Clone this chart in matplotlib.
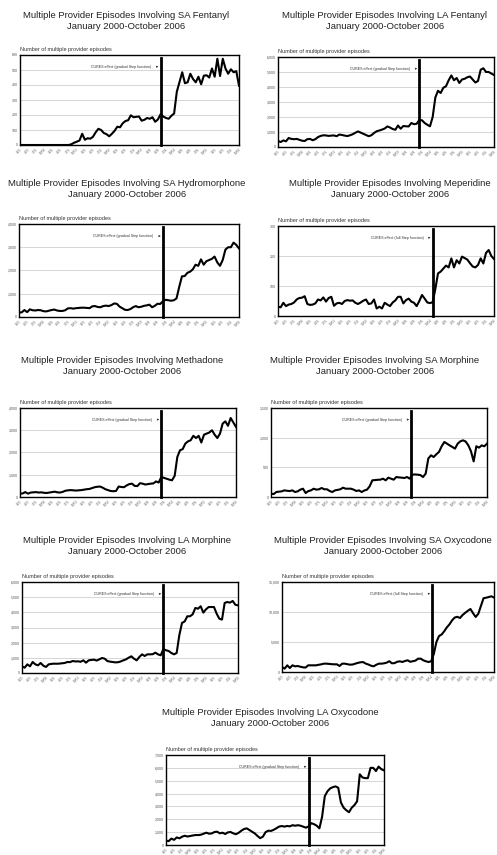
import matplotlib
matplotlib.use("Agg")
import matplotlib.pyplot as plt
import numpy as np

plt.rcParams['font.family'] = ['Liberation Sans', 'DejaVu Sans']

# monthly counts, January 2000 - October 2006 (82 months)
sa_fentanyl = [0] * 19 + [
    5, 15, 22, 30, 75, 35, 45, 42, 55, 85, 108, 100,
    80, 72, 58, 75, 95, 122, 118, 145, 160, 165, 198, 185,
    188, 190, 162, 168, 180, 175, 185, 155, 170, 205, 190, 180,
    175, 195, 210, 355, 420, 485, 412, 418, 475, 440, 418, 455,
    405, 462, 465, 450, 510, 455, 575, 460, 575, 510, 475, 505,
    485, 492, 395]

la_fentanyl = [
    400, 330, 440, 380, 600, 540, 520, 540, 480, 420, 400, 520,
    540, 450, 520, 660, 740, 780, 770, 740, 760, 770, 720, 830,
    800, 760, 730, 780, 850, 950, 1040, 960, 880, 800, 720, 780,
    930, 1050, 1100, 1160, 1230, 1370, 1300, 1200, 1150, 1430, 1220, 1400,
    1380, 1370, 1600, 1520, 1550, 1800, 1780, 1600, 1480, 1380, 2000, 3300,
    3750, 3600, 3950, 4050, 4450, 4770, 4450, 4600, 4270, 4500, 4550, 4650,
    4700, 4500, 4300, 4400, 5150, 5250, 5000, 5000, 4900, 4800]

sa_hydromorphone = [
    190, 200, 300, 210, 330, 290, 280, 300, 290, 250, 240, 270,
    300, 320, 280, 260, 260, 290, 370, 380, 360, 380, 390, 400,
    400, 390, 380, 460, 470, 430, 420, 470, 490, 470, 510, 580,
    570, 450, 380, 310, 300, 340, 420, 470, 420, 440, 480, 500,
    530, 420, 480, 570, 560, 680, 740, 720, 700, 720, 800, 1300,
    1750, 1760, 1900, 1950, 2050, 2250, 2200, 2480, 2250, 2400, 2450, 2500,
    2600, 2350, 2200, 2450, 2900, 3000, 3000, 3200, 3100, 2950]

meperidine = [
    31, 29, 44, 33, 38, 40, 45, 55, 60, 61, 66, 40,
    37, 38, 42, 55, 52, 62, 48, 60, 64, 34, 42, 44,
    40, 50, 53, 51, 52, 44, 40, 45, 51, 55, 40, 42,
    55, 25, 31, 25, 44, 38, 33, 45, 52, 64, 64, 42,
    53, 58, 48, 44, 33, 50, 70, 58, 45, 43, 46, 90,
    142, 148, 158, 168, 162, 192, 162, 186, 175, 198, 193, 188,
    176, 165, 162, 170, 192, 175, 210, 220, 200, 190]

methadone = [
    150, 160, 220, 150, 200, 210, 220, 200, 210, 190, 180, 200,
    220, 240, 210, 200, 230, 280, 300, 310, 300, 290, 300, 310,
    330, 350, 360, 400, 440, 460, 470, 420, 350, 310, 270, 260,
    270, 470, 450, 440, 520, 580, 600, 500, 490, 620, 600, 560,
    580, 600, 610, 700, 650, 900, 860, 820, 780, 750, 950, 1800,
    2100, 2150, 2400, 2500, 2550, 2750, 2650, 2750, 2450, 2800, 2850, 2900,
    3000, 2800, 2650, 2850, 3300, 3400, 3200, 3550, 3350, 3150]

sa_morphine = [
    56, 50, 84, 90, 95, 112, 105, 100, 112, 84, 95, 124,
    140, 67, 100, 112, 140, 124, 130, 152, 130, 130, 101, 84,
    112, 120, 130, 157, 140, 140, 140, 124, 101, 112, 84, 110,
    124, 180, 281, 285, 290, 292, 309, 281, 326, 309, 292, 337,
    330, 326, 320, 337, 309, 376, 380, 376, 370, 337, 393, 650,
    702, 674, 720, 760, 855, 927, 899, 870, 843, 815, 899, 938,
    955, 935, 870, 770, 600, 855, 832, 870, 855, 899]

la_morphine = [
    440, 350, 570, 440, 725, 570, 505, 660, 480, 400, 570, 600,
    615, 610, 620, 640, 660, 725, 715, 790, 760, 770, 740, 835,
    680, 835, 860, 880, 820, 900, 990, 945, 790, 750, 725, 700,
    710, 760, 835, 900, 1010, 1100, 945, 835, 1055, 1230, 1120, 1230,
    1230, 1240, 1340, 1230, 1165, 1560, 1500, 1450, 1320, 1230, 1320, 2500,
    3300, 3400, 3740, 3740, 3870, 4290, 4240, 4400, 3980, 4200, 4350, 4350,
    4350, 3910, 3580, 3520, 4620, 4680, 4640, 4750, 4500, 4460]

sa_oxycodone = [
    834, 556, 1112, 667, 1112, 945, 1000, 880, 780, 740, 1112, 1112,
    1112, 1112, 1200, 1280, 1390, 1390, 1350, 1300, 1280, 1280, 1000, 1390,
    1390, 1300, 1220, 1250, 1390, 1520, 1620, 1650, 1400, 1250, 1050, 945,
    1200, 1390, 1390, 1450, 1560, 1800, 1450, 1480, 1700, 1780, 1670, 1835,
    1950, 1700, 1800, 1900, 2220, 2220, 1950, 1780, 1670, 1780, 3000, 5000,
    6000, 6250, 6800, 7450, 7950, 8620, 9080, 9200, 9000, 9500, 9870, 10200,
    10500, 9800, 9170, 9700, 11000, 12300, 12380, 12500, 12620, 12400]

la_oxycodone = [
    337, 300, 500, 400, 590, 518, 648, 720, 660, 700, 740, 777,
    770, 800, 880, 958, 880, 900, 1010, 1036, 906, 958, 855, 984,
    1010, 906, 840, 950, 1114, 1243, 1295, 1165, 1030, 900, 700, 530,
    650, 1000, 1114, 1095, 1180, 1300, 1430, 1476, 1430, 1480, 1450, 1540,
    1500, 1540, 1500, 1425, 1347, 1450, 1700, 1620, 1502, 1295, 2200, 3800,
    4180, 4400, 4500, 4560, 4450, 3300, 2900, 2700, 2550, 2900, 3100, 3400,
    5500, 5250, 5200, 5200, 6000, 6000, 5750, 6100, 5900, 5800]

# quarterly tick labels 1/00 ... 10/06
tick_labels = ["%d/%02d" % (m, y) for y in range(7) for m in (1, 4, 7, 10)]

# drug name, series, y max, y step, month of CURES line, step type
panels = [
    ("SA Fentanyl", sa_fentanyl, 600, 100, 52, "gradual"),
    ("LA Fentanyl", la_fentanyl, 6000, 1000, 53, "gradual"),
    ("SA Hydromorphone", sa_hydromorphone, 4000, 1000, 53, "gradual"),
    ("Meperidine", meperidine, 300, 100, 58, "full"),
    ("Methadone", methadone, 4000, 1000, 53, "gradual"),
    ("SA Morphine", sa_morphine, 1500, 500, 52.6, "gradual"),
    ("LA Morphine", la_morphine, 6000, 1000, 53, "gradual"),
    ("SA Oxycodone", sa_oxycodone, 15000, 5000, 57.4, "full"),
    ("LA Oxycodone", la_oxycodone, 7000, 1000, 53, "gradual"),
]

# pixel boxes: left, right, top, bottom, title center x, title center y
boxes = [
    (20, 239, 55, 145, 126, 21),
    (278, 494, 57, 147, 385, 21),
    (19, 239, 224, 317, 127, 189),
    (278, 494, 226, 316, 390, 189),
    (20, 236, 408, 497, 122, 366),
    (271, 487, 408, 497, 375, 366),
    (22, 238, 582, 673, 127, 546),
    (282, 494, 582, 672, 383, 546),
    (166, 384, 755, 845, 270, 718),
]

W, H = 497, 855
fig = plt.figure(figsize=(W / 100, H / 100), dpi=100)

for (name, vals, ymax, ystep, cures, kind), (l, r, t, b, tx, ty) in zip(panels, boxes):
    ax = fig.add_axes([l / W, 1 - b / H, (r - l) / W, (b - t) / H])
    x = np.arange(len(vals))
    ax.plot(x, vals, color="black", lw=1.5, solid_joinstyle="round", zorder=3)
    ax.set_xlim(0, 81)
    ax.set_ylim(0, ymax)

    yt = np.arange(0, ymax + 1, ystep)
    ax.set_yticks(yt)
    ax.set_yticklabels([f"{v:,}" for v in yt], fontsize=2.6, color="#555555")
    ax.set_xticks(np.arange(0, 82, 3))
    ax.set_xticklabels(tick_labels, fontsize=2.3, color="#666666", rotation=45,
                       ha="right", rotation_mode="anchor")
    ax.tick_params(length=0, pad=1.5)
    ax.grid(axis="y", color="#d0d0d0", lw=0.6)
    ax.set_axisbelow(True)
    for s in ax.spines.values():
        s.set_color("black")
        s.set_linewidth(1.0)

    # CURES vertical marker with its note
    ax.plot([cures, cures], [0, ymax * 0.965], color="black", lw=2.0, zorder=4,
            clip_on=False)
    ax.annotate(f"CURES effect ({kind} Step function)",
                xy=(cures - 0.8, ymax * 0.87), xytext=(cures - 3.5, ymax * 0.87),
                fontsize=2.6, color="#333333", ha="right", va="center",
                arrowprops=dict(arrowstyle="-|>", color="#333333", lw=0.4,
                                mutation_scale=2.5))

    ax.text(0.0, 1.03, "Number of multiple provider episodes", transform=ax.transAxes,
            fontsize=4.0, color="#333333", ha="left", va="bottom")

    fig.text(tx / W, 1 - ty / H,
             f"Multiple Provider Episodes Involving {name}\nJanuary 2000-October 2006",
             fontsize=6.8, color="#222222", ha="center", va="center", linespacing=1.25)

fig.savefig("out.png", dpi=100, facecolor="white")
